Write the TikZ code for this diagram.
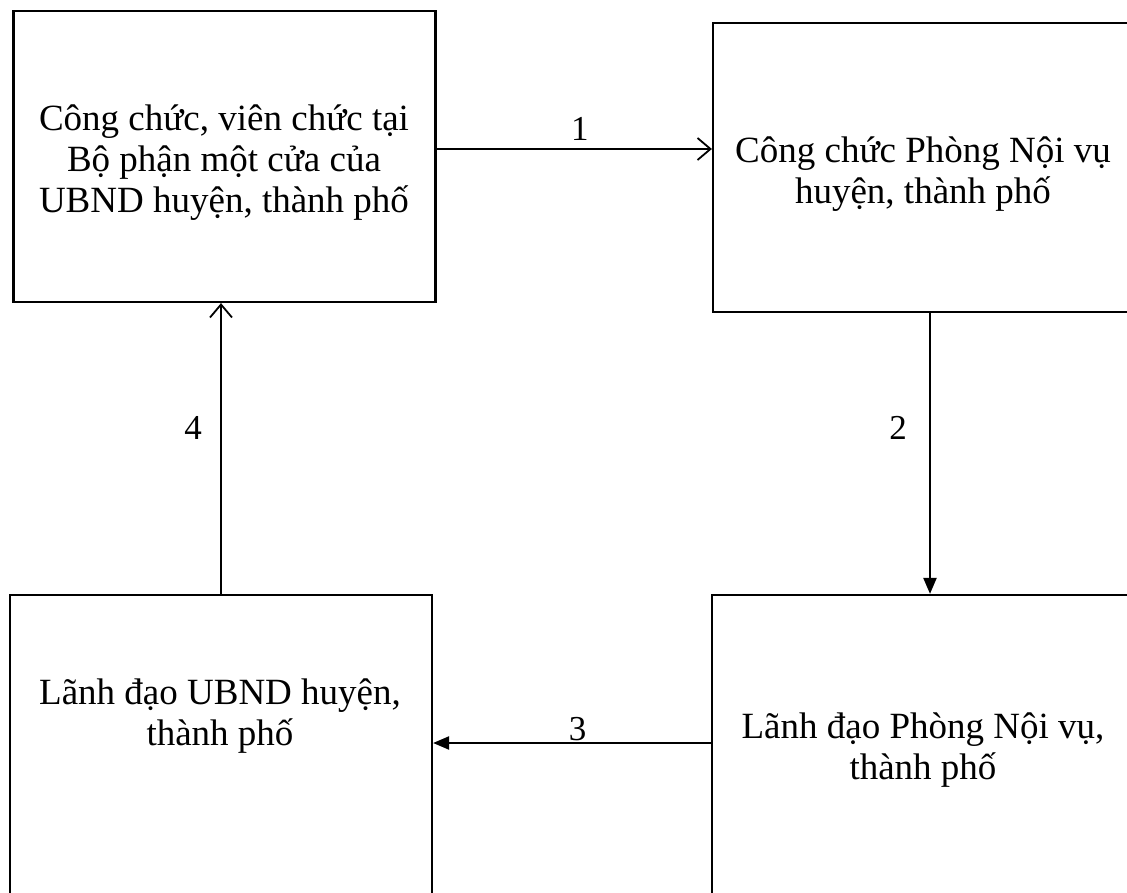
\documentclass[tikz,border=0pt]{standalone}
\usepackage{fontspec}
\setmainfont{Liberation Serif}
\usetikzlibrary{arrows.meta}

\begin{document}
\begin{tikzpicture}[
    x=1pt, y=-1pt,
    procBox/.style={draw, line width=2.2pt, minimum width=422pt, inner sep=0pt},
    procText/.style={align=center, inner sep=0pt, font=\fontsize{37}{41}\selectfont},
    flowLine/.style={line width=2.2pt},
    openTip/.style={-{Straight Barb[length=13pt,width=22pt,line width=1.8pt]}},
    fillTip/.style={-{Triangle[length=16pt,width=13pt]}},
    stepNum/.style={font=\fontsize{35}{41}\selectfont, inner sep=0pt}
]
    \useasboundingbox (0,0) rectangle (1127,893);
    \clip (0,0) rectangle (1127,893);

    % khung
    \node[procBox, minimum height=291pt] (cvMotCua) at (224.5,156.5) {};
    \node[procBox, minimum height=289pt] (cvNoiVu) at (924,167.5) {};
    \node[procBox, minimum height=310pt] (ldUBND) at (221,750) {};
    \node[procBox, minimum height=310pt] (ldNoiVu) at (923,750) {};

    % chữ trong khung
    \node[procText] (txtMotCua) at (224,163)
        {Công chức, viên chức tại\\Bộ phận một cửa của\\UBND huyện, thành phố};
    \node[procText] (txtNoiVu) at (923,174)
        {Công chức Phòng Nội vụ\\huyện, thành phố};
    \node[procText] (txtUBND) at (220,716)
        {Lãnh đạo UBND huyện,\\thành phố};
    \node[procText] (txtLdNoiVu) at (923,750)
        {Lãnh đạo Phòng Nội vụ,\\thành phố};

    % các bước
    \coordinate (y1) at (0,149);
    \coordinate (y3) at (0,743);
    \coordinate (x2) at (930,0);
    \coordinate (x4) at (221,0);

    \draw[flowLine, openTip] (cvMotCua.east |- y1) -- (cvNoiVu.west |- y1)
        node[stepNum, pos=0.52, above=7pt] (num1) {1};
    \draw[flowLine, fillTip] (x2 |- cvNoiVu.south) -- (x2 |- ldNoiVu.north)
        node[stepNum, pos=0.41, left=22pt] (num2) {2};
    \draw[flowLine, fillTip] (ldNoiVu.west |- y3) -- (ldUBND.east |- y3)
        node[stepNum, pos=0.48, above=1pt] (num3) {3};
    \draw[flowLine, openTip] (x4 |- ldUBND.north) -- (x4 |- cvMotCua.south)
        node[stepNum, pos=0.57, left=18pt] (num4) {4};
\end{tikzpicture}
\end{document}
